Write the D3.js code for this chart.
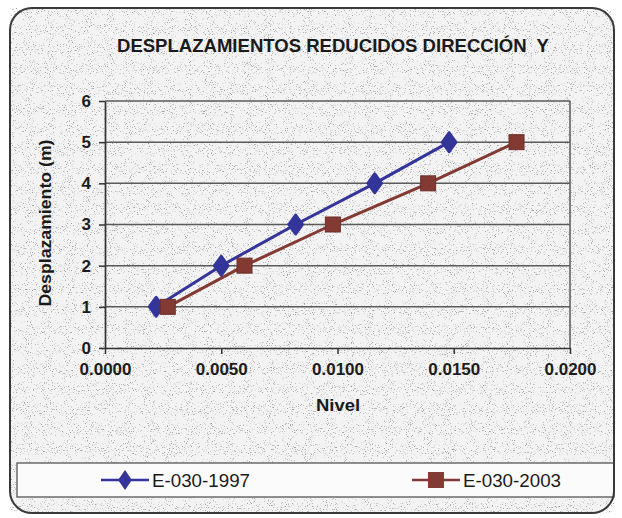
<!DOCTYPE html>
<html>
<head>
<meta charset="utf-8">
<script src="https://cdn.jsdelivr.net/npm/d3@7"></script>
<style>
  html, body { margin: 0; padding: 0; background: #ffffff; }
  svg { display: block; font-family: "Liberation Sans", Arial, sans-serif; }
</style>
</head>
<body>
<svg id="chart" width="622" height="518"></svg>
<script>
// Story drift ("Nivel") vs. storey, per code revision
const levels = [1, 2, 3, 4, 5];
const drift1997 = [0.0022, 0.0050, 0.0082, 0.0116, 0.0148];
const drift2003 = [0.0027, 0.0060, 0.0098, 0.0139, 0.0177];
const seriesNames = ["E-030-1997", "E-030-2003"];
const xTicks = [0, 0.005, 0.01, 0.015, 0.02];
const yTicks = [0, 1, 2, 3, 4, 5, 6];

const svg = d3.select("#chart");

// speckled paper texture
const defs = svg.append("defs");
const f = defs.append("filter").attr("id", "speckle")
  .attr("x", 0).attr("y", 0).attr("width", "100%").attr("height", "100%");
f.append("feTurbulence").attr("type", "fractalNoise")
  .attr("baseFrequency", 0.95).attr("numOctaves", 2).attr("seed", 7).attr("result", "n");
f.append("feColorMatrix").attr("in", "n").attr("type", "matrix")
  .attr("values", "0 0 0 0 0.3  0 0 0 0 0.3  0 0 0 0 0.3  -2.6 0 0 0 1.45")
  .attr("result", "dots");
f.append("feComponentTransfer").attr("in", "dots")
  .append("feFuncA").attr("type", "discrete").attr("tableValues", "0 0 0 0.3 0.6 0.85");

const panel = { x: 10, y: 8, w: 604, h: 505 };

svg.append("rect")
  .attr("x", panel.x).attr("y", panel.y).attr("width", panel.w).attr("height", panel.h)
  .attr("rx", 22).attr("fill", "#f3f3f3");
svg.append("rect")
  .attr("x", panel.x).attr("y", panel.y).attr("width", panel.w).attr("height", panel.h)
  .attr("rx", 22).attr("fill", "#fff").attr("filter", "url(#speckle)");

const m = { left: 105, right: 570, top: 101, bottom: 348 };
const x = d3.scaleLinear().domain([0, 0.02]).range([m.left, m.right]);
const y = d3.scaleLinear().domain([0, 6]).range([m.bottom, m.top]);

// horizontal grid
svg.append("g").selectAll("line").data(yTicks.filter(d => d > 0)).join("line")
  .attr("x1", m.left).attr("x2", m.right)
  .attr("y1", d => y(d)).attr("y2", d => y(d))
  .attr("stroke", "#5a5a5a").attr("stroke-width", 1.5);
// right edge of plot area
svg.append("line").attr("x1", m.right).attr("x2", m.right)
  .attr("y1", m.top).attr("y2", m.bottom)
  .attr("stroke", "#5a5a5a").attr("stroke-width", 1.5);

// axes
const xAxis = svg.append("g").attr("transform", `translate(0,${m.bottom})`)
  .call(d3.axisBottom(x).tickValues(xTicks).tickFormat(d3.format(".4f")).tickSizeInner(6).tickSizeOuter(0));
const yAxis = svg.append("g").attr("transform", `translate(${m.left},0)`)
  .call(d3.axisLeft(y).tickValues(yTicks).tickFormat(d3.format("d")).tickSizeInner(6).tickSizeOuter(0));
[xAxis, yAxis].forEach(g => {
  g.select(".domain").attr("stroke", "#333").attr("stroke-width", 1.7);
  g.selectAll(".tick line").attr("stroke", "#333").attr("stroke-width", 1.5);
  g.selectAll("text").attr("font-family", "Liberation Sans, Arial, sans-serif")
    .attr("font-size", 17).attr("font-weight", "bold").attr("fill", "#1c1c1c");
});
xAxis.selectAll("text").attr("dy", "1.05em");
yAxis.selectAll("text").attr("dx", "-0.3em");

// titles
svg.append("text").attr("x", 333).attr("y", 52).attr("text-anchor", "middle")
  .style("white-space", "pre")
  .attr("font-size", 18).attr("font-weight", "bold").attr("fill", "#1a1a1a")
  .attr("textLength", 432).attr("lengthAdjust", "spacingAndGlyphs")
  .text("DESPLAZAMIENTOS REDUCIDOS DIRECCIÓN  Y");
svg.append("text").attr("x", 338).attr("y", 411).attr("text-anchor", "middle")
  .attr("font-size", 16).attr("font-weight", "bold").attr("fill", "#1a1a1a")
  .attr("textLength", 44).attr("lengthAdjust", "spacingAndGlyphs")
  .text("Nivel");
svg.append("text").attr("transform", "translate(51,223) rotate(-90)")
  .attr("text-anchor", "middle")
  .attr("font-size", 16).attr("font-weight", "bold").attr("fill", "#1a1a1a")
  .attr("textLength", 167).attr("lengthAdjust", "spacingAndGlyphs")
  .text("Desplazamiento (m)");

// series
const blue = "#34359a", brown = "#823a33";
const line = d3.line().x(d => x(d[0])).y(d => y(d[1]));
const s1 = drift1997.map((v, i) => [v, levels[i]]);
const s2 = drift2003.map((v, i) => [v, levels[i]]);

svg.append("path").datum(s1).attr("d", line).attr("fill", "none")
  .attr("stroke", blue).attr("stroke-width", 3);
svg.append("path").datum(s2).attr("d", line).attr("fill", "none")
  .attr("stroke", brown).attr("stroke-width", 3);

const diamond = d3.symbol().type(d3.symbolDiamond).size(115);
svg.append("g").selectAll("path").data(s1).join("path")
  .attr("transform", d => `translate(${x(d[0])},${y(d[1])}) scale(1.25,1)`)
  .attr("d", diamond).attr("fill", blue).attr("stroke", blue)
  .attr("stroke-width", 2).attr("stroke-linejoin", "round");
svg.append("g").selectAll("rect").data(s2).join("rect")
  .attr("x", d => x(d[0]) - 7.5).attr("y", d => y(d[1]) - 7.5)
  .attr("width", 15).attr("height", 15)
  .attr("fill", brown).attr("stroke", "#6e2f29").attr("stroke-width", 1);

// legend
svg.append("rect").attr("x", 17).attr("y", 463).attr("width", 597).attr("height", 34)
  .attr("fill", "#fbfbfb").attr("stroke", "#555").attr("stroke-width", 1.3);
const leg = [
  { name: seriesNames[0], color: blue, x0: 101, kind: "diamond" },
  { name: seriesNames[1], color: brown, x0: 412, kind: "square" }
];
leg.forEach(l => {
  const cy = 480;
  svg.append("line").attr("x1", l.x0).attr("x2", l.x0 + 48).attr("y1", cy).attr("y2", cy)
    .attr("stroke", l.color).attr("stroke-width", 2.5);
  if (l.kind === "diamond") {
    svg.append("path").attr("transform", `translate(${l.x0 + 24},${cy}) scale(1.2,1)`)
      .attr("d", diamond).attr("fill", l.color);
  } else {
    svg.append("rect").attr("x", l.x0 + 16).attr("y", cy - 8).attr("width", 16).attr("height", 16)
      .attr("fill", l.color);
  }
  svg.append("text").attr("x", l.x0 + 51).attr("y", cy + 7)
    .attr("font-size", 18.5).attr("fill", "#1a1a1a")
    .attr("textLength", 98).attr("lengthAdjust", "spacingAndGlyphs")
    .text(l.name);
});

// panel border
svg.append("rect")
  .attr("x", panel.x).attr("y", panel.y).attr("width", panel.w).attr("height", panel.h)
  .attr("rx", 22).attr("fill", "none").attr("stroke", "#3a3a3a").attr("stroke-width", 2);
</script>
</body>
</html>
